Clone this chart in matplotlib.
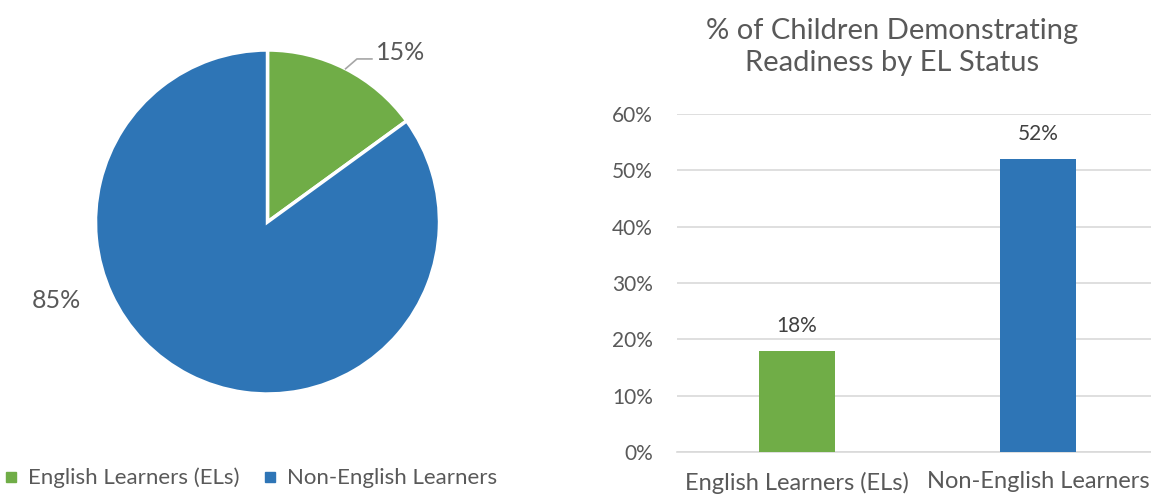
import matplotlib
matplotlib.use("Agg")
import matplotlib.pyplot as plt
from matplotlib.lines import Line2D
import numpy as np

plt.rcParams['font.family'] = ['Lato', 'DejaVu Sans']

categories = ["English Learners (ELs)", "Non-English Learners"]
pie_share = [15, 85]
readiness = [0.18, 0.52]
colors = ["#70AD47", "#2E75B6"]
yticks = [0, 0.1, 0.2, 0.3, 0.4, 0.5, 0.6]
title = "% of Children Demonstrating\nReadiness by EL Status"
text_color = "#595959"

W, H = 1151, 494
fig = plt.figure(figsize=(W / 100, H / 100), dpi=100)

# ---- Pie ----
cx, cy, r = 267.5, 222, 172
axp = fig.add_axes([(cx - r) / W, (H - cy - r) / H, 2 * r / W, 2 * r / H])
wedges, _ = axp.pie(pie_share, colors=colors, startangle=90, counterclock=False,
                    radius=1, wedgeprops=dict(edgecolor="white", linewidth=2.5))
axp.set_xlim(-1, 1)
axp.set_ylim(-1, 1)
axp.set_aspect("equal")
axp.axis("off")

# 15% label with leader line
mid = np.deg2rad(90 - pie_share[0] / 100 * 360 / 2)
p0 = (np.cos(mid), np.sin(mid))
axp.plot([p0[0], 0.52, 0.607], [p0[1], 0.948, 0.948], color="#A6A6A6", lw=1.2,
         clip_on=False)
axp.text(0.63, 0.985, f"{pie_share[0]}%", fontsize=18, color=text_color,
         ha="left", va="center", clip_on=False)
axp.text(-1.225, -0.455, f"{pie_share[1]}%", fontsize=18, color=text_color,
         ha="center", va="center", clip_on=False)

handles = [Line2D([0], [0], marker="s", linestyle="", markersize=6.5,
                  markerfacecolor=c, markeredgecolor=c) for c in colors]
fig.legend(handles, categories, loc="center left", bbox_to_anchor=(0.0, 1 - 478 / H),
           ncol=2, frameon=False, fontsize=16, handlelength=0.6, handletextpad=0.45,
           columnspacing=1.1, labelcolor=text_color, borderaxespad=0, borderpad=0.2)

# ---- Bar ----
left_px, right_px = 676.5, 1158.5
bottom_px, top_px = 452, 114
axb = fig.add_axes([left_px / W, (H - bottom_px) / H, (right_px - left_px) / W,
                    (bottom_px - top_px) / H])
x = np.arange(len(categories))
bars = axb.bar(x, readiness, width=0.315, color=colors, zorder=3)
axb.set_xlim(-0.5, 1.5)
axb.set_ylim(0, 0.6)
axb.set_yticks(yticks)
axb.set_yticklabels([f"{int(round(v * 100))}%" for v in yticks])
axb.set_xticks(x)
axb.set_xticklabels(categories)
axb.grid(axis="y", color="#D9D9D9", lw=1.2, zorder=0)
for s in ["top", "right", "left"]:
    axb.spines[s].set_visible(False)
axb.spines["bottom"].set_color("#D9D9D9")
axb.spines["bottom"].set_linewidth(1.2)
axb.tick_params(axis="y", length=0, labelsize=15, colors=text_color, pad=17)
axb.tick_params(axis="x", length=0, labelsize=17, colors=text_color, pad=14)
for xi, v in zip(x, readiness):
    axb.annotate(f"{int(round(v * 100))}%", (xi, v), xytext=(0, 18),
                 textcoords="offset points", ha="center", va="center",
                 fontsize=15, color="#404040")
fig.text(892 / W, 1 - 47 / H, title, ha="center", va="center", fontsize=21,
         color=text_color, linespacing=1.32)

fig.savefig("out.png", dpi=100)
